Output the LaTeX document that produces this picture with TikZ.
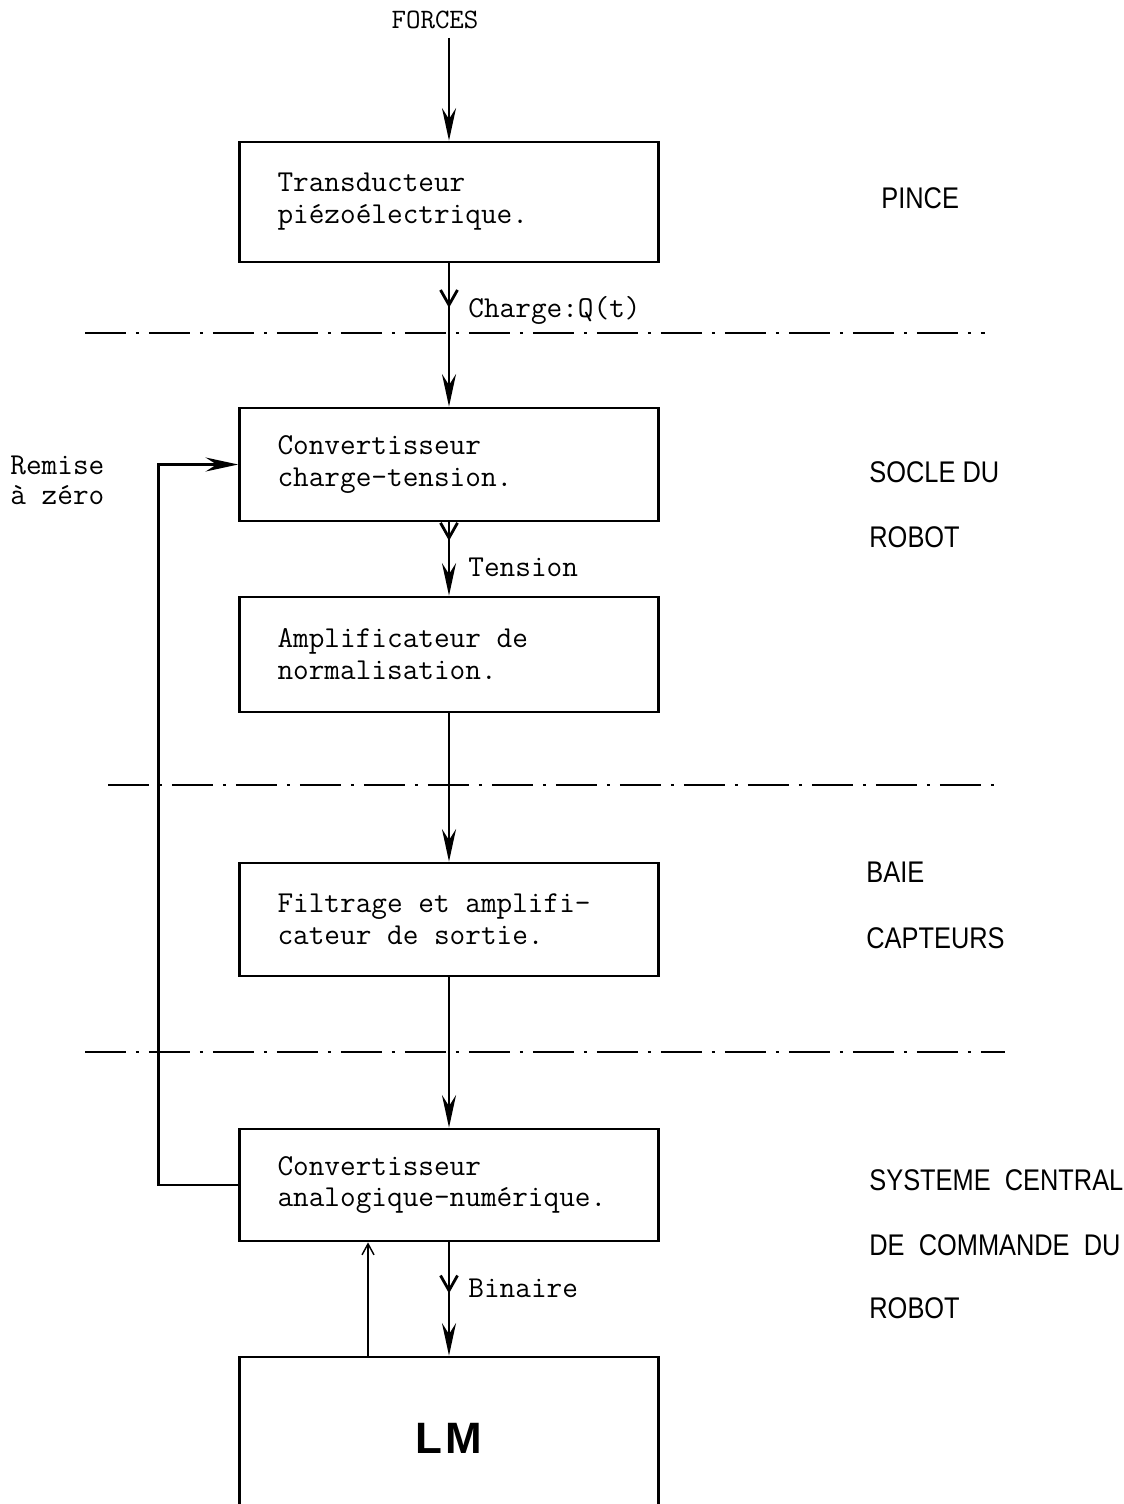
\documentclass[tikz,border=0pt]{standalone}
\usepackage{fontspec}
\setmainfont{Liberation Sans}
\newfontfamily\zonefont[FakeStretch=0.85]{Liberation Sans}
\usetikzlibrary{arrows.meta,decorations.markings}
\begin{document}
\begin{tikzpicture}[
    x=0.02cm, y=-0.02cm,
    line width=1.6pt,
    box/.style={draw, text width=6.86cm, inner xsep=0.76cm, inner ysep=0pt,
        align=flush left, font=\fontsize{17.3}{18.2}\selectfont\ttfamily},
    lab/.style={anchor=west, inner sep=0pt, font=\fontsize{17.3}{18.2}\selectfont\ttfamily},
    zone/.style={anchor=west, inner sep=0pt, font=\fontsize{17}{20}\selectfont\zonefont},
    sep/.style={line width=1.3pt, dash pattern=on 0.82cm off 0.2cm on 0.06cm off 0.2cm},
    bigtip/.style={-{Stealth[length=6.5mm, width=2.8mm, inset=2.2mm]}},
    midv/.style={postaction=decorate, decoration={markings,
        mark=at position #1 with {\arrow{Straight Barb[length=3mm, width=3.4mm]}}}}
]
\useasboundingbox (0,0) rectangle (1124,1504);
\clip (0,0) rectangle (1124,1504);
% Blocs
\node[box, minimum height=2.4cm]  (b1) at (449,202)   {Transducteur\\piézoélectrique.};
\node[box, minimum height=2.26cm] (b2) at (449,464.5) {Convertisseur\\charge-tension.};
\node[box, minimum height=2.3cm]  (b3) at (449,654.5) {Amplificateur de\\normalisation.};
\node[box, minimum height=2.26cm] (b4) at (449,919.5) {Filtrage et amplifi-\\cateur de sortie.};
\node[box, minimum height=2.24cm] (b5) at (449,1185)  {Convertisseur\\analogique-numérique.};
\node[draw, minimum width=8.38cm, minimum height=3.26cm,
    font=\fontsize{25}{30}\selectfont\bfseries] (lm) at (449,1438.5) {L\kern1.5pt M};
\node[inner sep=0pt, font=\fontsize{16}{18}\selectfont\ttfamily] (forces) at (435,20) {FORCES};
\coordinate (ftop) at (449,38);
% Liaisons
\draw[bigtip] (ftop) -- (b1.north);
\draw[bigtip, midv=0.31] (b1.south) -- (b2.north);
\draw[bigtip, midv=0.25] (b2.south) -- (b3.north);
\draw[bigtip] (b3.south) -- (b4.north);
\draw[bigtip] (b4.south) -- (b5.north);
\draw[bigtip, midv=0.45] (b5.south) -- (lm.north);
\draw[line width=0.8pt, -{Straight Barb[length=2.2mm, width=2.4mm]}]
    ([xshift=-1.62cm]lm.north) -- ([xshift=-1.62cm]b5.south);
\draw[bigtip] (b5.west) -- ++(-80,0) |- (b2.west);
% Signaux
\node[lab] (qt) at (467,310) {Charge:Q(t)};
\node[lab] (tens) at (467,567) {Tension};
\node[lab] (bin) at (467,1288) {Binaire};
\node[lab, align=flush left, font=\fontsize{17.3}{17}\selectfont\ttfamily] (raz) at (9,480) {Remise\\à zéro};
% Separations
\draw[sep] (85,333) -- (985,333);
\draw[sep] (108,785) -- (1003,785);
\draw[sep] (85,1052) -- (1005,1052);
% Zones
\node[zone] (z1) at (880,198) {PINCE};
\node[zone] (z2) at (868,472) {SOCLE DU};
\node[zone] (z3) at (868,537) {ROBOT};
\node[zone] (z4) at (865,872) {BAIE};
\node[zone] (z5) at (865,938) {CAPTEURS};
\node[zone] (z6) at (868,1180) {SYSTEME\ \ CENTRAL};
\node[zone] (z7) at (868,1245) {DE\ \ COMMANDE\ \ DU};
\node[zone] (z8) at (868,1308) {ROBOT};
\end{tikzpicture}
\end{document}
